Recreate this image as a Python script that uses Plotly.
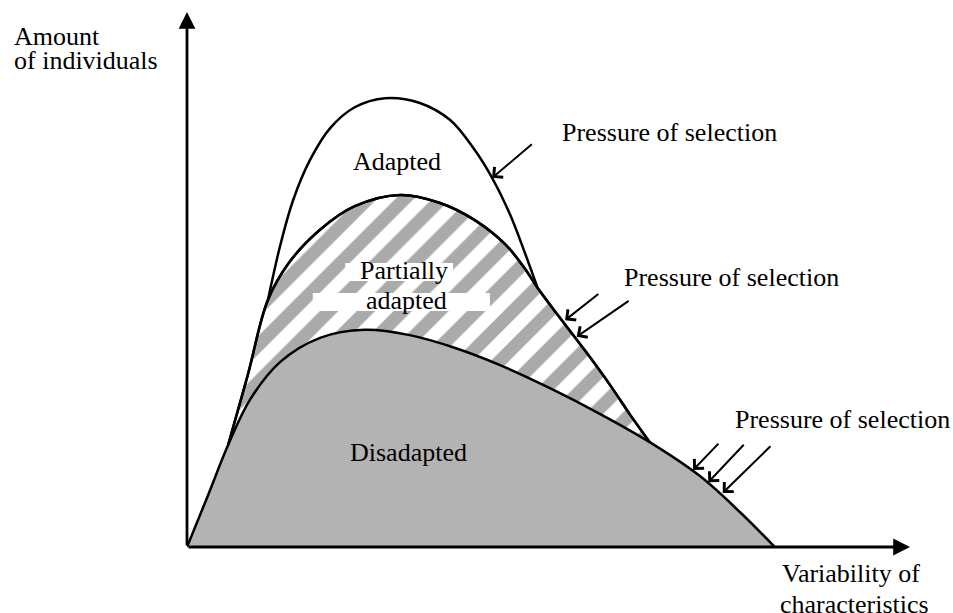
import plotly.graph_objects as go

# ---- data (schematic values) ----
# Disadapted (lower curve)
x_dis = [0.00, 0.28, 0.57, 0.87, 1.29, 1.84, 2.46, 3.08, 3.71, 4.33, 5.02, 5.71, 6.40, 7.09, 7.65, 8.13]
y_dis = [0.00, 0.93, 1.91, 2.75, 3.46, 3.91, 4.06, 3.96, 3.72, 3.40, 2.97, 2.49, 1.96, 1.33, 0.65, 0.00]
# Partially adapted (middle curve)
x_par = [0.57, 0.84, 1.12, 1.42, 1.84, 2.32, 2.95, 3.50, 3.98, 4.40, 4.67, 4.85, 5.16, 5.50, 5.85, 6.13, 6.40]
y_par = [1.91, 3.21, 4.62, 5.33, 5.93, 6.37, 6.58, 6.43, 6.11, 5.66, 5.21, 4.84, 4.28, 3.68, 3.03, 2.47, 1.96]
# Adapted (upper curve)
x_ada = [1.12, 1.29, 1.47, 1.70, 1.98, 2.32, 2.74, 3.22, 3.64, 3.98, 4.22, 4.47, 4.67, 4.85]
y_ada = [4.62, 5.64, 6.49, 7.23, 7.83, 8.22, 8.39, 8.30, 7.98, 7.42, 6.90, 6.21, 5.51, 4.84]

# selection-pressure arrows: (tail_x, tail_y, head_x, head_y)
arrows = [
    (4.79, 7.55, 4.22, 6.90),
    (5.71, 4.75, 5.23, 4.24),
    (6.13, 4.62, 5.39, 3.93),
    (7.37, 1.96, 7.00, 1.44),
    (7.72, 1.94, 7.21, 1.21),
    (8.09, 1.91, 7.41, 1.01),
]

# labels: (text, x, y, anchor) in axis-fraction units
labels = [
    ("Amount", -0.242, 0.955, "left"),
    ("of individuals", -0.242, 0.910, "left"),
    ("Pressure of selection", 0.516, 0.774, "left"),
    ("Adapted", 0.290, 0.721, "center"),
    ("Partially", 0.300, 0.516, "center"),
    ("adapted", 0.303, 0.460, "center"),
    ("Pressure of selection", 0.602, 0.503, "left"),
    ("Disadapted", 0.306, 0.176, "center"),
    ("Pressure of selection", 0.755, 0.239, "left"),
    ("Variability of", 0.820, -0.050, "left"),
    ("characteristics", 0.817, -0.107, "left"),
]

FONT = "Liberation Serif, Times New Roman, serif"
FS = 26
GRAY = "#b3b3b3"
STRIPE = "#aaaaaa"

fig = go.Figure()
# hatched band (partially adapted)
fig.add_trace(go.Scatter(
    x=x_par, y=y_par, mode="lines", line=dict(color="black", width=2.5, shape="spline"),
    fill="tozeroy", fillcolor="white",
    fillpattern=dict(shape="/", fgcolor=STRIPE, bgcolor="white", fgopacity=1,
                     size=26, solidity=0.5),
    hoverinfo="skip", showlegend=False))
# disadapted solid fill
fig.add_trace(go.Scatter(
    x=x_dis, y=y_dis, mode="lines", line=dict(color="black", width=2.5, shape="spline"),
    fill="tozeroy", fillcolor=GRAY, hoverinfo="skip", showlegend=False))
# middle line again on top
fig.add_trace(go.Scatter(
    x=x_par, y=y_par, mode="lines", line=dict(color="black", width=2.5, shape="spline"),
    hoverinfo="skip", showlegend=False))
# adapted curve
fig.add_trace(go.Scatter(
    x=x_ada, y=y_ada, mode="lines", line=dict(color="black", width=2.5, shape="spline"),
    hoverinfo="skip", showlegend=False))

ann = []
# axes with arrows
ann.append(dict(x=0, y=10, ax=0, ay=0, xref="x", yref="y", axref="x", ayref="y",
                showarrow=True, arrowhead=2, arrowsize=1.2, arrowwidth=2.8, arrowcolor="black", text=""))
ann.append(dict(x=10, y=0, ax=0, ay=0, xref="x", yref="y", axref="x", ayref="y",
                showarrow=True, arrowhead=2, arrowsize=1.2, arrowwidth=2.8, arrowcolor="black", text=""))
for tx, ty, hx, hy in arrows:
    ann.append(dict(x=hx, y=hy, ax=tx, ay=ty, xref="x", yref="y", axref="x", ayref="y",
                    showarrow=True, arrowhead=4, arrowsize=1.3, arrowwidth=2, arrowcolor="black", text=""))

for s, x, y, anc in labels:
    ann.append(dict(text=s, x=x, y=y, xref="paper", yref="paper", showarrow=False,
                    xanchor=anc, yanchor="middle",
                    font=dict(family=FONT, size=FS, color="black")))

shapes = [
    dict(type="rect", x0=2.19, x1=3.68, y0=4.97, y1=5.31, xref="x", yref="y",
         fillcolor="white", line=dict(width=0), layer="above"),
    dict(type="rect", x0=1.74, x1=4.19, y0=4.41, y1=4.75, xref="x", yref="y",
         fillcolor="white", line=dict(width=0), layer="above"),
]

fig.update_layout(
    width=953, height=613,
    margin=dict(l=187, r=43, t=12, b=66),
    plot_bgcolor="white", paper_bgcolor="white",
    xaxis=dict(range=[0, 10], visible=False, fixedrange=True),
    yaxis=dict(range=[0, 10], visible=False, fixedrange=True),
    annotations=ann, shapes=shapes,
    showlegend=False,
)
fig.write_html(
    "out.html",
    config={"displayModeBar": False},
    post_script="document.body.style.margin='0';document.body.style.overflow='hidden';",
)
